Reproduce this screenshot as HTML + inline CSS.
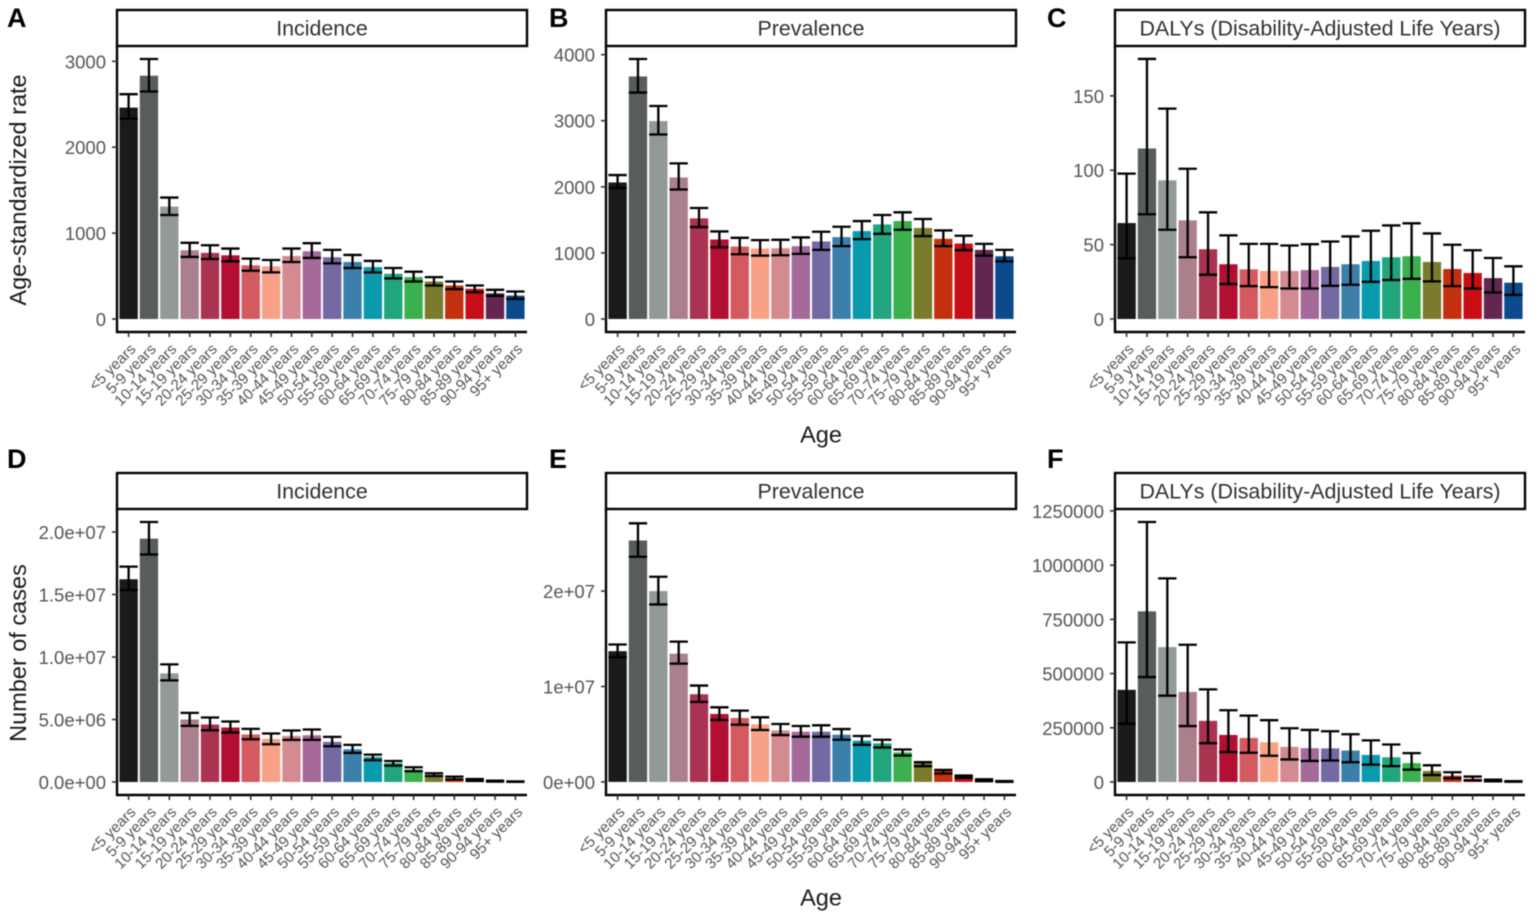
<!DOCTYPE html>
<html lang="en">
<head>
<meta charset="utf-8">
<title>Age-specific burden charts</title>
<style>
html,body{margin:0;padding:0;background:#fff;width:1535px;height:918px;overflow:hidden}
svg{display:block;font-family:"Liberation Sans",Arial,sans-serif;filter:blur(0.5px)}
</style>
</head>
<body>
<svg id="figure" xmlns="http://www.w3.org/2000/svg" width="1535" height="918" viewBox="0 0 1535 918">
  <rect x="0" y="0" width="1535" height="918" fill="#fff"/>
  <text transform="translate(26,190) rotate(-90)" text-anchor="middle" font-size="23.5" fill="#1a1a1a">Age-standardized rate</text>
  <text transform="translate(26,653) rotate(-90)" text-anchor="middle" font-size="23.5" fill="#1a1a1a">Number of cases</text>
  <text x="821" y="442.5" text-anchor="middle" font-size="23.5" fill="#1a1a1a">Age</text>
  <text x="821" y="905.5" text-anchor="middle" font-size="23.5" fill="#1a1a1a">Age</text>
  <text x="7" y="27" font-size="27" font-weight="bold" fill="#000">A</text>
  <text x="549" y="27" font-size="27" font-weight="bold" fill="#000">B</text>
  <text x="1047" y="27" font-size="27" font-weight="bold" fill="#000">C</text>
  <text x="7" y="468" font-size="27" font-weight="bold" fill="#000">D</text>
  <text x="549" y="468" font-size="27" font-weight="bold" fill="#000">E</text>
  <text x="1047" y="468" font-size="27" font-weight="bold" fill="#000">F</text>
</svg>
<script>
const ageCategories = ["<5 years","5-9 years","10-14 years","15-19 years","20-24 years","25-29 years","30-34 years","35-39 years","40-44 years","45-49 years","50-54 years","55-59 years","60-64 years","65-69 years","70-74 years","75-79 years","80-84 years","85-89 years","90-94 years","95+ years"];
const ageColors = ["#1b1a1b","#585c5d","#929a99","#ab7f8b","#aa3350","#b20f33","#d55a5f","#f9a187","#d48a91","#a66a9a","#7369a3","#3a80ab","#0a9aad","#20a57d","#3ab14e","#7a7b2c","#c3300f","#c90d17","#622651","#0b4a8c"];

/* Panel A: incidence, age-standardized rate */
const incidenceRateMean = [2461,2832,1309,801,770,742,625,613,734,789,719,664,605,527,488,437,390,352,300,273];
const incidenceRateUpper = [2617,3027,1414,887,859,820,703,687,820,883,805,746,676,594,551,488,437,390,340,320];
const incidenceRateLower = [2332,2648,1211,723,699,672,562,543,664,711,648,594,543,473,437,390,348,312,270,234];
const incidenceRateTicks = [0,1000,2000,3000];
const incidenceRateTickLabels = ["0","1000","2000","3000"];

/* Panel B: prevalence, age-standardized rate */
const prevalenceRateMean = [2066,3670,2995,2142,1523,1203,1096,1066,1071,1102,1173,1239,1330,1431,1482,1376,1213,1142,1046,949];
const prevalenceRateUpper = [2178,3934,3223,2355,1680,1325,1228,1193,1198,1234,1320,1396,1482,1574,1614,1513,1340,1259,1137,1046];
const prevalenceRateLower = [1980,3426,2792,1959,1391,1086,980,959,964,985,1046,1102,1208,1289,1350,1254,1102,1041,959,873];
const prevalenceRateTicks = [0,1000,2000,3000,4000];
const prevalenceRateTickLabels = ["0","1000","2000","3000","4000"];

/* Panel C: DALYs, age-standardized rate */
const dalysRateMean = [64.5,114.6,93.2,66.3,46.9,36.8,33.4,32.3,32.3,32.9,35,36.8,39,41.5,42.2,38.3,33.6,30.9,27.5,24.4];
const dalysRateUpper = [97.7,174.8,141.4,101,71.7,56.2,50.5,50.5,49.4,50.3,52.1,55.5,59.3,62.9,64.3,57.5,49.9,46.2,41,35.4];
const dalysRateLower = [40.8,70.4,60,41.5,29.8,23.5,22.1,21.4,20.5,20.5,22.3,23,25,26.2,27,25.3,22.1,20.5,17.8,16.2];
const dalysRateTicks = [0,50,100,150];
const dalysRateTickLabels = ["0","50","100","150"];

/* Panel D: incidence, number of cases */
const incidenceCasesMean = [16220000,19470000,8690000,5000000,4600000,4360000,3800000,3450000,3690000,3740000,3210000,2620000,2000000,1520000,990000,530000,270000,130000,50000,30000];
const incidenceCasesUpper = [17230000,20800000,9410000,5530000,5160000,4840000,4250000,3880000,4120000,4200000,3610000,2970000,2190000,1680000,1180000,700000,430000,240000,110000,50000];
const incidenceCasesLower = [15350000,18200000,8130000,4490000,4140000,3960000,3420000,3020000,3370000,3370000,2860000,2330000,1740000,1310000,860000,480000,210000,80000,30000,10000];
const incidenceCasesTicks = [0,5000000,10000000,15000000,20000000];
const incidenceCasesTickLabels = ["0.0e+00","5.0e+06","1.0e+07","1.5e+07","2.0e+07"];

/* Panel E: prevalence, number of cases */
const prevalenceCasesMean = [13700000,25300000,20000000,13440000,9190000,7120000,6700000,6040000,5400000,5260000,5260000,4950000,4320000,4040000,3100000,1960000,1160000,600000,200000,70000];
const prevalenceCasesUpper = [14400000,27100000,21500000,14700000,10100000,7820000,7470000,6770000,6070000,5860000,5930000,5540000,4810000,4420000,3400000,2070000,1260000,670000,280000,100000];
const prevalenceCasesLower = [13050000,23600000,18600000,12400000,8390000,6490000,6000000,5440000,4910000,4740000,4740000,4420000,3890000,3610000,2770000,1650000,880000,420000,70000,10000];
const prevalenceCasesTicks = [0,10000000,20000000];
const prevalenceCasesTickLabels = ["0e+00","1e+07","2e+07"];

/* Panel F: DALYs, number of cases */
const dalysCasesMean = [425000,787000,622000,415000,282000,217000,203000,183000,162000,156000,155000,145000,125000,114000,87000,51000,29000,14000,8000,3000];
const dalysCasesUpper = [644000,1199000,939000,633000,427000,331000,306000,285000,248000,240000,234000,220000,192000,173000,133000,77000,45000,25000,11000,4000];
const dalysCasesLower = [269000,484000,398000,258000,179000,138000,135000,121000,104000,97000,99000,91000,80000,73000,57000,32000,17000,8000,3000,1000];
const dalysCasesTicks = [0,250000,500000,750000,1000000,1250000];
const dalysCasesTickLabels = ["0","250000","500000","750000","1000000","1250000"];

/* Y-axis domains (value at the bottom and top of each plot area) */
const incidenceRateDomain = [-151,3178];
const prevalenceRateDomain = [-197,4131];
const dalysRateDomain = [-8.74,183.5];
const incidenceCasesDomain = [-1040000,21840000];
const prevalenceCasesDomain = [-1370000,28600000];
const dalysCasesDomain = [-60000,1259000];

const panels = [
  {id:"a",title:"Incidence",left:117,top:46,mean:incidenceRateMean,upper:incidenceRateUpper,lower:incidenceRateLower,ticks:incidenceRateTicks,tickLabels:incidenceRateTickLabels,domain:incidenceRateDomain},
  {id:"b",title:"Prevalence",left:606,top:46,mean:prevalenceRateMean,upper:prevalenceRateUpper,lower:prevalenceRateLower,ticks:prevalenceRateTicks,tickLabels:prevalenceRateTickLabels,domain:prevalenceRateDomain},
  {id:"c",title:"DALYs (Disability-Adjusted Life Years)",left:1115,top:46,mean:dalysRateMean,upper:dalysRateUpper,lower:dalysRateLower,ticks:dalysRateTicks,tickLabels:dalysRateTickLabels,domain:dalysRateDomain},
  {id:"d",title:"Incidence",left:117,top:509,mean:incidenceCasesMean,upper:incidenceCasesUpper,lower:incidenceCasesLower,ticks:incidenceCasesTicks,tickLabels:incidenceCasesTickLabels,domain:incidenceCasesDomain},
  {id:"e",title:"Prevalence",left:606,top:509,mean:prevalenceCasesMean,upper:prevalenceCasesUpper,lower:prevalenceCasesLower,ticks:prevalenceCasesTicks,tickLabels:prevalenceCasesTickLabels,domain:prevalenceCasesDomain},
  {id:"f",title:"DALYs (Disability-Adjusted Life Years)",left:1115,top:509,mean:dalysCasesMean,upper:dalysCasesUpper,lower:dalysCasesLower,ticks:dalysCasesTicks,tickLabels:dalysCasesTickLabels,domain:dalysCasesDomain}
];

const SVG_NS = "http://www.w3.org/2000/svg";
const PANEL_WIDTH = 410;
const PANEL_HEIGHT = 286;
const STRIP_HEIGHT = 36;
const X_PAD = 0.57;
const root = document.getElementById("figure");

function attrs(el, map) {
  for (const key in map) el.setAttribute(key, map[key]);
  return el;
}
function shape(tag, parent, map) {
  const el = attrs(document.createElementNS(SVG_NS, tag), map);
  parent.appendChild(el);
  return el;
}
function xStep() {
  return PANEL_WIDTH / (ageCategories.length - 1 + 2 * X_PAD);
}
function makeXScale(panel) {
  const step = xStep();
  return i => panel.left + (X_PAD + i) * step;
}
function makeYScale(panel) {
  const bottom = panel.top + PANEL_HEIGHT;
  return v => bottom - (v - panel.domain[0]) / (panel.domain[1] - panel.domain[0]) * PANEL_HEIGHT;
}

panels.forEach(panel => {
  const x = makeXScale(panel);
  const y = makeYScale(panel);
  const bottom = panel.top + PANEL_HEIGHT;
  const right = panel.left + PANEL_WIDTH;
  const barWidth = xStep() * 0.9;

  const group = shape("g", root, {});
  
  

  const strip = shape("rect", group, {x:panel.left, y:panel.top - STRIP_HEIGHT, width:PANEL_WIDTH, height:STRIP_HEIGHT, fill:"#fff", stroke:"#000", "stroke-width":2.4});
  
  

  const stripText = shape("text", group, {x:panel.left + PANEL_WIDTH / 2, y:panel.top - 10.5, "text-anchor":"middle", "font-size":21.4, fill:"#303030"});
  stripText.textContent = panel.title;
  
  

  ageCategories.forEach((cat, i) => {
    const bar = shape("rect", group, {x:x(i) - barWidth / 2, y:y(panel.mean[i]), width:barWidth, height:y(0) - y(panel.mean[i]), fill:ageColors[i]});
    
    
  });

  ageCategories.forEach((cat, i) => {
    const cx = x(i), yu = y(panel.upper[i]), yl = y(panel.lower[i]), hw = barWidth / 2;
    const err = shape("path", group, {d:"M" + (cx - hw) + " " + yu + "H" + (cx + hw) + "M" + cx + " " + yu + "V" + yl + "M" + (cx - hw) + " " + yl + "H" + (cx + hw), fill:"none", stroke:"#000", "stroke-width":2.3});
    
    
  });

  const yAxis = shape("line", group, {x1:panel.left, y1:panel.top, x2:panel.left, y2:bottom + 1, stroke:"#000", "stroke-width":2.4});
  
  

  const xAxis = shape("line", group, {x1:panel.left - 1, y1:bottom, x2:right, y2:bottom, stroke:"#000", "stroke-width":2.4});
  
  

  panel.ticks.forEach((t, k) => {
    const tick = shape("line", group, {x1:panel.left - 5, y1:y(t), x2:panel.left, y2:y(t), stroke:"#333", "stroke-width":1.6});
    
    
    const label = shape("text", group, {x:panel.left - 11, y:y(t) + 7, "text-anchor":"end", "font-size":18.5, fill:"#555"});
    label.textContent = panel.tickLabels[k];
    
    
  });

  ageCategories.forEach((cat, i) => {
    const tick = shape("line", group, {x1:x(i), y1:bottom, x2:x(i), y2:bottom + 5, stroke:"#333", "stroke-width":1.6});
    
    
    const label = shape("text", group, {transform:"translate(" + (x(i) + 8) + "," + (bottom + 18) + ") rotate(-45)", "text-anchor":"end", "font-size":15.2, fill:"#555"});
    label.textContent = cat;
    
    
  });
});
</script>
</body>
</html>
